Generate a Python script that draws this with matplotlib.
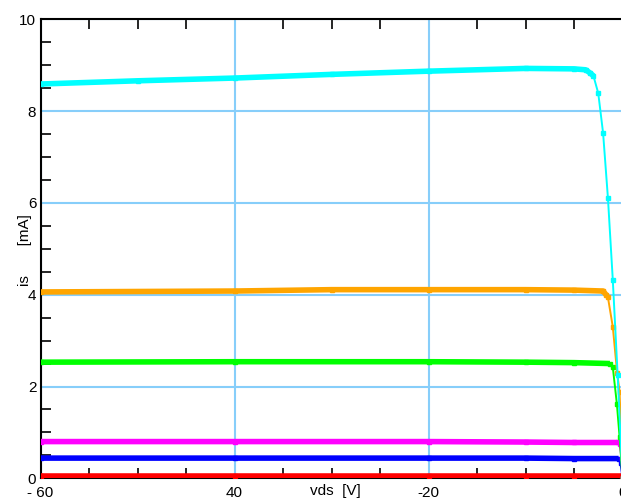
import numpy as np
import matplotlib
matplotlib.use('Agg')
import matplotlib.pyplot as plt
from matplotlib.ticker import MultipleLocator

plt.rcParams['font.family'] = ['Liberation Sans', 'DejaVu Sans']

# measured curves, vds [V] -> is [mA]
vds_cyan = [-60, -50, -40, -30, -20, -10, -5, -3.8, -3.4, -3.0, -2.5, -2.0, -1.5, -1.0, -0.5, 0]
is_cyan = [8.59, 8.66, 8.72, 8.80, 8.87, 8.93, 8.92, 8.90, 8.84, 8.77, 8.39, 7.52, 6.10, 4.32, 2.25, 0.0]

vds_orange = [-60, -40, -30, -20, -10, -5, -2.0, -1.7, -1.5, -1.0, -0.55, -0.3, 0]
is_orange = [4.06, 4.08, 4.11, 4.11, 4.11, 4.10, 4.08, 4.00, 3.94, 3.30, 2.29, 1.89, 0.0]

vds_green = [-60, -40, -20, -10, -5, -1.3, -1.0, -0.58, -0.3, 0]
is_green = [2.53, 2.54, 2.54, 2.53, 2.52, 2.50, 2.42, 1.62, 0.9, 0.0]

vds_magenta = [-60, -40, -20, -10, -5, -0.5, -0.3, -0.1, 0]
is_magenta = [0.80, 0.80, 0.80, 0.79, 0.78, 0.78, 0.74, 0.45, 0.0]

vds_blue = [-60, -40, -20, -10, -5, -0.4, -0.2, 0]
is_blue = [0.44, 0.44, 0.44, 0.44, 0.43, 0.43, 0.33, 0.0]

vds_red = [-60, -40, -20, -10, -5, -0.1, 0]
is_red = [0.04, 0.04, 0.04, 0.04, 0.04, 0.04, 0.0]

xticks = [-60, -40, -20, 0]
xticklabels = ['- 60', '40', '-20', '0']
yticks = [0, 2, 4, 6, 8, 10]
yticklabels = ['0', '2', '4', '6', '8', '10']

curves = [
    (vds_red, is_red, '#ff0000'),
    (vds_blue, is_blue, '#0000ff'),
    (vds_magenta, is_magenta, '#ff00ff'),
    (vds_green, is_green, '#00ff00'),
    (vds_orange, is_orange, '#ffa500'),
    (vds_cyan, is_cyan, '#00ffff'),
]

fig = plt.figure(figsize=(6.21, 5.0), dpi=100)
ax = fig.add_axes([40.5/621, 1-478.3/500, (622.5-40.5)/621, (478.3-19.3)/500])

for xs, ys, c in curves:
    xs = np.array(xs); ys = np.array(ys)
    ax.plot(xs, ys, color=c, lw=1.4, marker='s', ms=3.2, mec=c, zorder=3)
    # saturated part is a dense band of points -> thick line
    flat = ys >= 0.96*ys.max()
    ax.plot(xs[flat], ys[flat], color=c, lw=4.0, solid_capstyle='butt', zorder=3)

ax.set_xlim(-60, 0)
ax.set_ylim(0, 10)
ax.set_xticks(xticks)
ax.set_xticklabels(xticklabels)
ax.set_yticks(yticks)
ax.set_yticklabels(yticklabels)
ax.xaxis.set_minor_locator(MultipleLocator(5))
ax.yaxis.set_minor_locator(MultipleLocator(0.5))
ax.tick_params(which='major', length=0, labelsize=11, pad=3)
ax.tick_params(axis='x', which='major', pad=5.5)
ax.tick_params(which='minor', direction='in', length=7, width=1.2, top=True, right=False)
ax.grid(True, which='major', color='#87cefa', lw=1.5, zorder=1)
ax.set_axisbelow(True)
for s in ['left', 'bottom', 'top']:
    ax.spines[s].set_linewidth(1.5)
ax.spines['right'].set_visible(False)

fig.text(335/621, 1-491/500, 'vds  [V]', ha='center', va='center', fontsize=11)
fig.text(25/621, 1-250/500, 'is       [mA]', ha='center', va='center', rotation=90, fontsize=11)

fig.savefig('out.png', dpi=100)
